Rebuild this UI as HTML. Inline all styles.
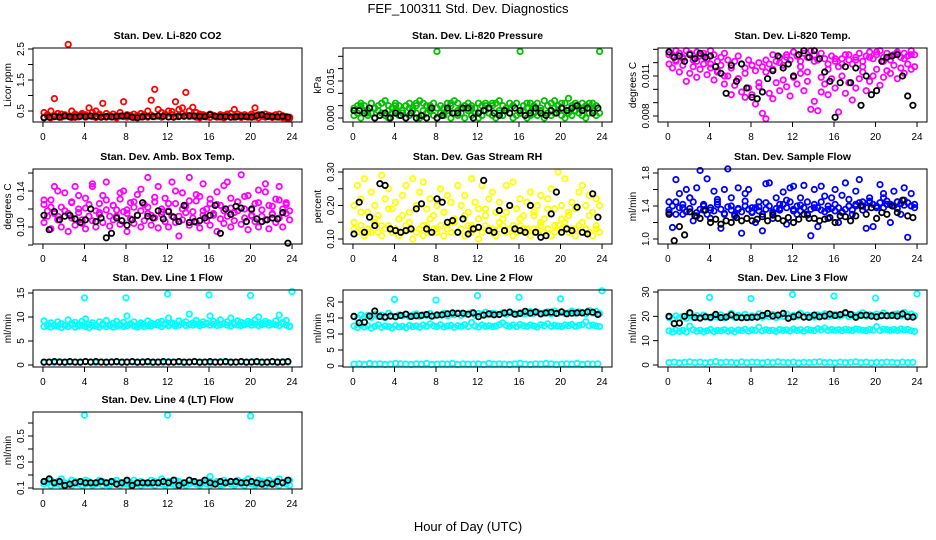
<!DOCTYPE html>
<html><head><meta charset="utf-8"><style>
body{margin:0;background:#fff}
svg{display:block;font-family:"Liberation Sans",sans-serif}
</style></head><body>
<svg id="fig" width="936" height="540" viewBox="0 0 936 540">
<rect width="936" height="540" fill="#fff"/>
<text x="468" y="13" text-anchor="middle" font-size="13">FEF_100311  Std. Dev. Diagnostics</text>
<text x="468" y="531" text-anchor="middle" font-size="13">Hour of Day (UTC)</text>
</svg>
<script>
// ---- data (each array spans 0-24 h evenly) ----
const co2Red1=[0.45,0.38,0.5,0.9,0.42,0.4,0.36,2.65,0.5,0.4,0.35,0.42,0.38,0.6,0.45,0.5,0.4,0.75,0.42,0.36,0.4,0.35,0.45,0.8,0.38,0.32,0.4,0.36,0.42,0.38,0.5,0.85,1.2,0.55,0.45,0.4,0.5,0.48,0.8,0.55,0.6,1.1,0.5,0.62,0.45,0.4,0.38,0.35,0.4,0.36,0.32,0.38,0.35,0.4,0.42,0.55,0.4,0.36,0.38,0.34,0.4,0.6,0.38,0.35,0.4,0.36,0.34,0.38,0.4,0.35,0.32,0.3];
const co2Red2=[0.3,0.34,0.28,0.36,0.32,0.3,0.38,0.33,0.29,0.35,0.31,0.37,0.3,0.34,0.32,0.29,0.36,0.33,0.3,0.35,0.31,0.28,0.34,0.32,0.3,0.36,0.29,0.33,0.31,0.35,0.3,0.37,0.32,0.34,0.3,0.36,0.31,0.38,0.33,0.35,0.4,0.36,0.32,0.34,0.3,0.28,0.33,0.31,0.29,0.35,0.3,0.32,0.28,0.34,0.31,0.3,0.33,0.29,0.32,0.3,0.34,0.31,0.28,0.33,0.3,0.32,0.29,0.31,0.3,0.28,0.27,0.26];
const co2Black=[0.28,0.3,0.32,0.3,0.34,0.31,0.3,0.33,0.32,0.34,0.33,0.3,0.32,0.31,0.33,0.34,0.35,0.3,0.28,0.31,0.33,0.32,0.34,0.33,0.31,0.3,0.32,0.33,0.35,0.34,0.33,0.32,0.38,0.33,0.31,0.32,0.3,0.31,0.33,0.32,0.3,0.35,0.38,0.33,0.32,0.31,0.33,0.3];

const presGreen1=[0.004,0.005,0.006,0.005,0.003,0.006,0.004,0.005,0.006,0.007,0.005,0.004,0.006,0.005,0.003,0.005,0.006,0.004,0.005,0.007,0.006,0.005,0.004,0.006,0.027,0.005,0.004,0.006,0.005,0.007,0.006,0.004,0.005,0.006,0.005,0.004,0.006,0.005,0.006,0.004,0.005,0.006,0.007,0.005,0.004,0.006,0.005,0.006,0.027,0.005,0.004,0.006,0.005,0.006,0.004,0.007,0.005,0.006,0.007,0.005,0.004,0.006,0.008,0.005,0.006,0.004,0.006,0.005,0.004,0.006,0.005,0.027];
const presGreen2=[0.001,0.002,0.0,0.003,0.001,0.002,0.0,0.003,0.002,0.001,0.0,0.002,0.003,0.001,0.002,0.0,0.001,0.003,0.002,0.0,0.001,0.002,0.003,0.001,0.0,0.002,0.001,0.003,0.0,0.002,0.001,0.002,0.0,0.003,0.001,0.002,0.0,0.001,0.003,0.002,0.001,0.0,0.002,0.001,0.003,0.002,0.0,0.001,0.002,0.003,0.0,0.001,0.002,0.001,0.003,0.0,0.002,0.001,0.002,0.003,0.001,0.0,0.002,0.001,0.003,0.002,0.001,0.0,0.002,0.003,0.001,0.002];
const presGreen3=[0.003,0.005,0.002,0.004,0.006,0.003,0.005,0.002,0.004,0.006,0.003,0.005,0.004,0.002,0.006,0.003,0.005,0.004,0.002,0.005,0.006,0.003,0.004,0.005,0.002,0.006,0.004,0.003,0.005,0.004,0.006,0.003,0.005,0.004,0.006,0.005];
const presBlack=[0.003,0.003,0.002,0.004,0.0,0.001,0.002,0.0,0.002,0.001,0.0,0.002,0.0,0.001,0.0,0.004,0.0,0.001,0.004,0.002,0.002,0.004,0.004,0.0,0.002,0.003,0.004,0.002,0.001,0.003,0.002,0.004,0.003,0.001,0.002,0.004,0.002,0.001,0.003,0.002,0.004,0.003,0.004,0.005,0.003,0.004,0.002,0.004];

const tempMag1=[0.0128,0.0125,0.0122,0.0127,0.0124,0.0129,0.0126,0.0122,0.0128,0.0125,0.0127,0.0123,0.0129,0.0126,0.0121,0.0124,0.0127,0.0122,0.0118,0.0121,0.0125,0.0119,0.0116,0.0122,0.0118,0.0114,0.0120,0.0117,0.0113,0.0119,0.0115,0.0121,0.0124,0.0118,0.0126,0.0122,0.0128,0.0125,0.0121,0.0127,0.0124,0.0129,0.0126,0.0122,0.0127,0.0123,0.0119,0.0125,0.0121,0.0117,0.0123,0.0126,0.0122,0.0119,0.0124,0.0127,0.0121,0.0125,0.0128,0.0123,0.0126,0.0129,0.0124,0.0127,0.0122,0.0126,0.0128,0.0124,0.0127,0.0125,0.0129,0.0126];
const tempMag2=[0.0119,0.0116,0.0121,0.0113,0.0118,0.0106,0.0112,0.0117,0.0109,0.0115,0.0119,0.0111,0.0116,0.0107,0.0113,0.0118,0.0104,0.0110,0.0096,0.0103,0.0108,0.0098,0.0094,0.0101,0.0096,0.0089,0.0102,0.0082,0.0078,0.0097,0.0093,0.0105,0.0099,0.0107,0.0102,0.0095,0.0109,0.0104,0.0112,0.0099,0.0106,0.0085,0.0091,0.0084,0.0098,0.0104,0.0096,0.0108,0.0101,0.0083,0.0110,0.0097,0.0105,0.0092,0.0101,0.0108,0.0113,0.0099,0.0106,0.0110,0.0115,0.0103,0.0109,0.0114,0.0112,0.0118,0.0108,0.0116,0.0112,0.0119,0.0115,0.0117];
const tempMag3=[0.0126,0.0129,0.0123,0.0127,0.0121,0.0125,0.0119,0.0114,0.0110,0.0116,0.0108,0.0112,0.0118,0.0105,0.0122,0.0126,0.0120,0.0124,0.0128,0.0117,0.0113,0.0121,0.0109,0.0115,0.0123,0.0119,0.0126,0.0122,0.0117,0.0124,0.0128,0.0121,0.0125,0.0127,0.0123,0.0126];
const tempBlack=[0.0128,0.0124,0.0125,0.0121,0.0126,0.0123,0.0127,0.0124,0.0125,0.0117,0.0112,0.0097,0.0118,0.0106,0.0119,0.0101,0.0094,0.0093,0.0098,0.0108,0.0114,0.0125,0.0116,0.0119,0.0110,0.0126,0.0129,0.0124,0.0129,0.0123,0.0113,0.0106,0.0079,0.0105,0.0117,0.0105,0.0116,0.0088,0.0110,0.0096,0.0099,0.0121,0.0124,0.0125,0.0126,0.0110,0.0095,0.0088];

const ambMag1=[0.125,0.118,0.13,0.145,0.112,0.122,0.138,0.115,0.128,0.145,0.12,0.108,0.132,0.125,0.148,0.118,0.126,0.135,0.15,0.112,0.124,0.119,0.131,0.14,0.115,0.127,0.122,0.136,0.118,0.125,0.155,0.113,0.128,0.145,0.12,0.132,0.118,0.15,0.126,0.112,0.138,0.123,0.155,0.117,0.129,0.134,0.148,0.12,0.126,0.113,0.139,0.124,0.118,0.15,0.132,0.116,0.128,0.158,0.12,0.135,0.112,0.126,0.141,0.119,0.148,0.124,0.115,0.131,0.145,0.12,0.127,0.118];
const ambMag2=[0.105,0.112,0.098,0.115,0.108,0.1,0.118,0.095,0.11,0.102,0.116,0.104,0.098,0.112,0.107,0.1,0.114,0.105,0.119,0.101,0.108,0.112,0.103,0.117,0.095,0.109,0.104,0.113,0.1,0.107,0.115,0.102,0.11,0.099,0.114,0.106,0.1,0.112,0.105,0.09,0.108,0.116,0.102,0.11,0.105,0.099,0.113,0.107,0.102,0.115,0.095,0.109,0.104,0.112,0.1,0.107,0.118,0.103,0.11,0.097,0.113,0.106,0.1,0.112,0.108,0.098,0.114,0.105,0.11,0.1,0.115,0.108];
const ambMag3=[0.13,0.122,0.14,0.118,0.127,0.135,0.121,0.145,0.116,0.13,0.124,0.138,0.119,0.128,0.142,0.122,0.133,0.117,0.126,0.14,0.12,0.129,0.136,0.118,0.131,0.125,0.146,0.121,0.128,0.134,0.119,0.127,0.139,0.123,0.13,0.125];
const ambBlack=[0.113,0.097,0.117,0.108,0.112,0.113,0.109,0.105,0.108,0.12,0.106,0.11,0.088,0.093,0.11,0.107,0.102,0.108,0.113,0.127,0.112,0.11,0.118,0.109,0.117,0.111,0.106,0.124,0.105,0.106,0.107,0.11,0.113,0.124,0.093,0.12,0.114,0.123,0.121,0.106,0.12,0.109,0.106,0.108,0.11,0.109,0.116,0.082];

const rhYel1=[0.2,0.26,0.22,0.28,0.18,0.24,0.2,0.17,0.29,0.22,0.25,0.19,0.21,0.16,0.23,0.26,0.18,0.28,0.2,0.24,0.27,0.19,0.22,0.17,0.2,0.25,0.18,0.23,0.21,0.16,0.26,0.2,0.23,0.18,0.28,0.21,0.19,0.26,0.17,0.22,0.24,0.18,0.21,0.16,0.26,0.2,0.27,0.19,0.22,0.17,0.21,0.24,0.18,0.2,0.23,0.16,0.22,0.25,0.19,0.3,0.2,0.28,0.17,0.21,0.19,0.24,0.26,0.2,0.23,0.18,0.22,0.2];
const rhYel2=[0.13,0.12,0.14,0.11,0.13,0.12,0.15,0.12,0.11,0.13,0.14,0.12,0.13,0.11,0.12,0.14,0.13,0.1,0.12,0.13,0.11,0.14,0.12,0.13,0.12,0.14,0.11,0.13,0.12,0.15,0.12,0.13,0.11,0.14,0.12,0.13,0.1,0.12,0.14,0.13,0.12,0.11,0.13,0.14,0.12,0.13,0.11,0.12,0.14,0.13,0.12,0.11,0.13,0.12,0.14,0.12,0.13,0.11,0.12,0.14,0.13,0.15,0.12,0.13,0.11,0.14,0.12,0.13,0.12,0.11,0.13,0.12];
const rhYel3=[0.15,0.18,0.12,0.16,0.14,0.19,0.13,0.17,0.15,0.2,0.14,0.16,0.13,0.18,0.15,0.12,0.17,0.14,0.16,0.19,0.13,0.15,0.18,0.14,0.16,0.13,0.17,0.15,0.19,0.14,0.16,0.18,0.13,0.15,0.17,0.14];
const rhBlack=[0.115,0.21,0.12,0.165,0.14,0.265,0.26,0.13,0.125,0.12,0.125,0.13,0.19,0.205,0.13,0.12,0.22,0.21,0.15,0.155,0.12,0.16,0.115,0.13,0.135,0.275,0.125,0.12,0.185,0.125,0.2,0.13,0.125,0.12,0.2,0.12,0.105,0.11,0.175,0.24,0.12,0.13,0.125,0.195,0.12,0.115,0.235,0.165];

const sfBlue1=[1.45,1.14,1.72,1.55,1.3,1.6,1.5,1.22,1.62,1.83,1.35,1.73,1.25,1.58,1.45,1.13,1.6,1.85,1.5,1.28,1.62,1.07,1.55,1.6,1.38,1.2,1.45,1.1,1.67,1.68,1.25,1.5,1.42,1.57,1.18,1.62,1.64,1.3,1.5,1.65,1.45,1.04,1.6,1.15,1.64,1.52,1.25,1.5,1.6,1.2,1.53,1.68,1.4,1.3,1.58,1.72,1.45,1.13,1.5,1.15,1.38,1.66,1.55,1.42,1.2,1.58,1.45,1.3,1.62,1.02,1.55,1.38];
const sfBlue2=[1.35,1.4,1.3,1.38,1.42,1.33,1.37,1.45,1.32,1.36,1.4,1.3,1.38,1.34,1.42,1.36,1.31,1.39,1.35,1.3,1.37,1.33,1.4,1.36,1.32,1.38,1.34,1.3,1.36,1.4,1.33,1.37,1.35,1.42,1.38,1.45,1.36,1.4,1.34,1.38,1.3,1.36,1.42,1.38,1.35,1.33,1.4,1.37,1.34,1.38,1.32,1.36,1.4,1.35,1.42,1.44,1.4,1.38,1.45,1.42,1.4,1.44,1.38,1.46,1.42,1.4,1.45,1.43,1.41,1.44,1.4,1.42];
const sfBlue3=[1.32,1.45,1.38,1.5,1.28,1.42,1.35,1.48,1.3,1.4,1.36,1.46,1.33,1.39,1.44,1.31,1.37,1.47,1.34,1.41,1.29,1.38,1.45,1.36,1.42,1.33,1.48,1.4,1.35,1.46,1.38,1.5,1.42,1.37,1.47,1.4];
const sfBlack=[1.3,0.98,1.15,1.05,1.33,1.28,1.25,1.35,1.2,1.24,1.18,1.22,1.2,1.26,1.22,1.25,1.22,1.24,1.27,1.22,1.29,1.25,1.22,1.26,1.2,1.24,1.3,1.25,1.25,1.22,1.24,1.26,1.2,1.28,1.27,1.22,1.28,1.4,1.3,1.38,1.25,1.32,1.3,1.4,1.32,1.47,1.28,1.26];

const l1Up=[9.2,8.5,8.8,8.2,9.0,8.6,8.3,9.4,8.7,8.9,8.4,9.1,9.6,8.5,8.8,8.2,9.0,8.6,9.3,8.4,8.7,9.1,8.5,8.9,10.2,8.6,9.0,8.3,8.8,8.5,9.2,8.7,8.4,8.9,9.1,8.6,9.8,8.8,8.5,9.2,8.7,9.0,10.6,8.8,9.3,8.6,9.0,8.7,10.2,9.1,8.8,9.4,8.6,9.0,9.8,8.7,9.2,8.9,8.6,9.1,8.8,9.4,10.0,8.7,9.1,8.8,8.5,9.2,10.4,8.9,9.3,8.0];
const l1Mid=[8.0,8.2,7.9,8.3,8.1,7.8,8.2,8.0,8.4,7.9,8.1,8.3,8.0,7.8,8.2,8.1,7.9,8.3,8.0,8.2,7.9,8.1,8.3,8.0,8.2,8.4,8.1,7.9,8.3,8.0,8.2,8.1,8.5,8.3,8.0,8.4,8.2,8.5,8.1,8.3,8.6,8.2,8.4,8.3,8.5,8.2,8.4,8.6,8.3,8.5,8.2,8.4,8.6,8.3,8.1,8.5,8.3,8.2,8.4,8.6,8.3,8.5,8.2,8.4,8.6,8.3,8.5,8.4,8.2,8.6,8.3,8.1];
const l1Low=[0.5,0.6,0.5,0.7,0.5,0.6,0.6,0.5,0.7,0.6,0.5,0.6,0.5,0.7,0.6,0.5,0.6,0.6,0.5,0.7,0.6,0.5,0.6,0.5,0.7,0.6,0.6,0.5,0.6,0.7,0.5,0.6,0.5,0.6,0.7,0.6,0.5,0.6,0.6,0.5,0.7,0.6,0.5,0.6,0.6,0.5,0.7,0.6];
const l1Black=[0.6,0.6,0.7,0.6,0.6,0.7,0.6,0.6,0.7,0.6,0.7,0.6,0.6,0.6,0.7,0.6,0.6,0.7,0.6,0.6,0.7,0.6,0.6,0.7,0.6,0.6,0.7,0.6,0.6,0.7,0.6,0.6,0.7,0.6,0.6,0.7,0.6,0.6,0.7,0.6,0.6,0.7,0.6,0.6,0.7,0.6,0.6,0.7];
const l1OutHours=[4,8,12,16,20,24];
const l1Out=[14,14,14.8,14.6,14.5,15.3];

const l2Up=[15.5,15,16,15.3,15.8,15.2,16.2,15.5,15.9,15.1,16.5,15.6,15.3,16,15.7,16.2,15.4,15.9,16.3,15.5,16,15.8,16.4,15.6,16.1,15.9,16.5,15.7,16.2,16,16.6,15.8,16.3,16.1,16.7,15.9,16.4,16.2,16.8,16,16.5,16.3,16.1,16.6,16.2,16.9,16.4,16.1,16.7,16.3,16.5,17,16.4,16.8,16.2,16.6,16.9,16.3,17.2,16.5,16.8,16.4,16.6,17.2,16.5,16.9,16.7,16.3,17.3,16.6,17,16.4];
const l2Mid=[12.5,12,12.8,12.2,12.6,11.8,12.4,12.9,12.1,12.5,12.3,11.9,12.6,12.2,12.4,12,12.7,12.3,12.5,12.1,12.8,12.4,13.2,12.6,12.3,12.9,12.2,12.5,12.7,12.1,12.6,12.4,12.9,12.3,13.6,12.5,12.2,12.8,12.4,12.6,12.3,12.5,12.9,13.5,12.7,12.4,12.8,12.3,13,12.6,12.4,12.8,12.5,12.2,12.9,12.6,13.2,12.4,12.7,12.5,12.3,12.8,12.6,13,12.4,12.7,12.9,13.8,12.6,12.8,12.5,12.3];
const l2Low=[0.6,0.7,0.5,0.8,0.6,0.7,0.5,0.6,0.8,0.7,0.6,0.5,0.7,0.6,0.8,0.5,0.6,0.7,0.6,0.8,0.5,0.7,0.6,0.6,0.7,0.5,0.8,0.6,0.7,0.6,0.5,0.7,0.8,0.6,0.5,0.7,0.6,0.8,0.7,0.5,0.6,0.7,0.6,0.8,0.5,0.7,0.6,0.7];
const l2Black=[15.5,13.5,13.7,15.6,17.2,15.5,15.3,15.6,15.4,15.8,16.2,15.5,15.7,15.8,16.1,15.6,15.9,16,16.3,16.6,16.4,16.5,16.2,16.6,15.4,15.9,16.3,16,16.1,16.6,16.8,16.2,16.4,17.1,16.5,16.9,16.3,16.6,16.8,16.4,16.9,16.3,16.5,16.6,16.6,16.9,16.8,16.1];
const l2OutHours=[4,8,12,16,20,24];
const l2Out=[20.8,20.6,22,21.5,21,23.5];

const l3Up=[19.5,19,20.2,19.4,20,19.2,21,19.6,20.3,19.1,20.5,19.8,19.3,20.1,19.7,20.6,19.4,20,21.2,19.6,20.4,19.8,20.8,19.5,20.2,19.9,21,19.6,20.3,19.8,20.7,19.5,20.1,19.9,20.9,19.7,20.4,20,21.3,19.8,20.5,20.1,19.7,20.6,20.2,21,19.9,20.3,20.8,20.1,20.5,21.1,19.9,20.6,20.2,20.8,21.5,20,20.6,20.3,20.9,20.1,21.4,20.5,20.2,20.8,21,20.3,21.6,20.5,20.9,20.2];
const l3Mid=[14,13.5,14.4,13.8,14.2,13.6,16,14.5,13.9,14.3,13.7,14.1,14.6,13.8,14.2,14,14.5,13.9,14.3,13.7,14.4,14.1,14.7,13.9,14.4,14.2,15.5,14,14.5,14.1,14.3,13.8,14.6,14.2,14.4,14,14.8,14.2,14.5,13.9,14.6,14.3,14.1,14.9,14.4,15.2,14.2,14.6,14.3,14.5,14.1,14.7,14.4,14.2,14.8,14.5,14.3,14.1,14.6,14.4,15.8,14.2,14.7,14.5,14.3,14.6,14.2,14.8,14.4,14.6,14.1,13.8];
const l3Low=[1,1.2,0.9,1.1,1.3,1,1.2,0.9,1.1,1.4,1,1.2,1.1,0.9,1.3,1,1.2,1.1,0.9,1.2,1,1.3,1.1,1,1.2,0.9,1.1,1,1.2,1.3,1,1.1,0.9,1.2,1,1.1,1.3,1,1.2,0.9,1.1,1,1.2,1.1,0.9,1.2,1,1.1];
const l3Black=[20,17,17.2,20,21.5,19.5,19.3,19.8,19.6,20.8,19.5,19.7,20.6,19.6,19.4,19.5,19.6,19.7,20.4,21.2,20.1,20.5,21.2,19.2,19.8,20.6,19.7,19.6,20.5,19.8,20.1,20.9,20.3,20.7,21.5,20.8,19.6,20.4,20.5,20.1,19.8,20.3,20.2,20.4,20.1,21,19.8,19.7];
const l3OutHours=[4,8,12,16,20,24];
const l3Out=[27.8,27.3,29,28.3,27.5,29.2];

const l4Up=[0.15,0.14,0.16,0.13,0.15,0.17,0.14,0.13,0.16,0.15,0.14,0.12,0.16,0.15,0.13,0.14,0.16,0.15,0.14,0.13,0.15,0.16,0.14,0.13,0.15,0.14,0.16,0.13,0.15,0.14,0.13,0.16,0.15,0.14,0.17,0.13,0.15,0.14,0.16,0.15,0.13,0.14,0.16,0.15,0.14,0.13,0.15,0.16,0.19,0.14,0.15,0.13,0.16,0.14,0.15,0.13,0.16,0.14,0.15,0.17,0.14,0.13,0.16,0.15,0.14,0.16,0.13,0.15,0.17,0.14,0.15,0.16];
const l4Mid=[0.13,0.14,0.12,0.14,0.13,0.12,0.14,0.13,0.12,0.14,0.13,0.12,0.13,0.14,0.12,0.13,0.14,0.12,0.13,0.12,0.14,0.13,0.12,0.14,0.13,0.12,0.13,0.14,0.12,0.13,0.14,0.13,0.12,0.14,0.13,0.12,0.14,0.13,0.12,0.13,0.14,0.12,0.13,0.14,0.13,0.12,0.14,0.13,0.12,0.13,0.14,0.12,0.13,0.14,0.13,0.12,0.14,0.13,0.12,0.14,0.13,0.12,0.13,0.14,0.12,0.13,0.14,0.13,0.12,0.14,0.13,0.12];
const l4Black=[0.15,0.17,0.14,0.15,0.12,0.13,0.14,0.15,0.14,0.14,0.14,0.15,0.14,0.15,0.13,0.14,0.16,0.12,0.14,0.14,0.14,0.14,0.14,0.15,0.14,0.16,0.12,0.14,0.16,0.15,0.14,0.16,0.14,0.13,0.15,0.14,0.15,0.15,0.14,0.14,0.15,0.14,0.13,0.14,0.13,0.15,0.14,0.16];
const l4OutHours=[4,12,20];
const l4Out=[0.66,0.66,0.655];

const xTicks=[0,4,8,12,16,20,24];

// ---- layout ----
const NS='http://www.w3.org/2000/svg';
const svg=document.getElementById('fig');
const colL=[33,343,658], boxW=269;
const rowT=[48,169,290,412], rowB=[122,244,367,489];
function mk(tag,attrs,parent){const e=document.createElementNS(NS,tag);for(const k in attrs)e.setAttribute(k,attrs[k]);(parent||svg).appendChild(e);return e;}
function xScale(c,h){return colL[c]+(h+0.96)*boxW/25.92;}

const panels=[
 {c:0,r:0,title:'Stan. Dev. Li-820 CO2',ylab:'Licor ppm',map:[0.5,111,2.5,49],ticks:[0.5,1,1.5,2,2.5],labels:['0.5','1.5','2.5'],
  series:[[co2Red1,'#ff0000'],[co2Red2,'#ff0000'],[co2Black,'#000']]},
 {c:1,r:0,title:'Stan. Dev. Li-820 Pressure',ylab:'kPa',map:[0,118,0.015,81],ticks:[0,0.005,0.01,0.015,0.02,0.025],labels:['0.000','0.015'],
  series:[[presGreen1,'#00c000'],[presGreen2,'#00c000'],[presGreen3,'#00c000'],[presBlack,'#000']]},
 {c:2,r:0,title:'Stan. Dev. Li-820 Temp.',ylab:'degrees C',map:[0.008,116,0.011,76],ticks:[0.008,0.009,0.01,0.011,0.012,0.013],labels:['0.008','0.011'],
  series:[[tempMag1,'#ff00ff'],[tempMag2,'#ff00ff'],[tempMag3,'#ff00ff'],[tempBlack,'#000']]},
 {c:0,r:1,title:'Stan. Dev. Amb. Box Temp.',ylab:'degrees C',map:[0.10,227,0.14,191],ticks:[0.08,0.10,0.12,0.14,0.16],labels:['0.10','0.14'],
  series:[[ambMag1,'#ff00ff'],[ambMag2,'#ff00ff'],[ambMag3,'#ff00ff'],[ambBlack,'#000']]},
 {c:1,r:1,title:'Stan. Dev. Gas Stream RH',ylab:'percent',map:[0.10,239,0.30,172],ticks:[0.10,0.15,0.20,0.25,0.30],labels:['0.10','0.20','0.30'],
  series:[[rhYel1,'#ffff00'],[rhYel2,'#ffff00'],[rhYel3,'#ffff00'],[rhBlack,'#000']]},
 {c:2,r:1,title:'Stan. Dev. Sample Flow',ylab:'ml/min',map:[1.0,239,1.8,173],ticks:[1.0,1.2,1.4,1.6,1.8],labels:['1.0','1.4','1.8'],
  series:[[sfBlue1,'#0000ff'],[sfBlue2,'#0000ff'],[sfBlue3,'#0000ff'],[sfBlack,'#000']]},
 {c:0,r:2,title:'Stan. Dev. Line 1 Flow',ylab:'ml/min',map:[0,365,15,293],ticks:[0,5,10,15],labels:['0','5','10','15'],
  series:[[l1Up,'#00ffff'],[l1Mid,'#00ffff'],[l1Low,'#00ffff'],[l1Black,'#000']],out:[l1OutHours,l1Out,'#00ffff']},
 {c:1,r:2,title:'Stan. Dev. Line 2 Flow',ylab:'ml/min',map:[0,366,20,302],ticks:[0,5,10,15,20],labels:['0','5','10','15','20'],
  series:[[l2Up,'#00ffff'],[l2Mid,'#00ffff'],[l2Low,'#00ffff'],[l2Black,'#000']],out:[l2OutHours,l2Out,'#00ffff']},
 {c:2,r:2,title:'Stan. Dev. Line 3 Flow',ylab:'ml/min',map:[0,365,30,292],ticks:[0,10,20,30],labels:['0','10','20','30'],
  series:[[l3Up,'#00ffff'],[l3Mid,'#00ffff'],[l3Low,'#00ffff'],[l3Black,'#000']],out:[l3OutHours,l3Out,'#00ffff']},
 {c:0,r:3,title:'Stan. Dev. Line 4 (LT) Flow',ylab:'ml/min',map:[0.1,488,0.5,436],ticks:[0.1,0.2,0.3,0.4,0.5,0.6],labels:['0.1','0.3','0.5'],
  series:[[l4Up,'#00ffff'],[l4Mid,'#00ffff'],[l4Black,'#000']],out:[l4OutHours,l4Out,'#00ffff']}
];

panels.forEach((p,pi)=>{
  const g=mk('g',{});
  
  
  const L=colL[p.c], R=L+boxW, T=rowT[p.r], B=rowB[p.r];
  const yS=v=>p.map[1]+(v-p.map[0])*(p.map[3]-p.map[1])/(p.map[2]-p.map[0]);
  const cx=h=>xScale(p.c,h);
  const pts=mk('g',{},g);
  
  
  const colored=p.series.filter(s=>s[1]!=='#000'), black=p.series.filter(s=>s[1]==='#000');
  const drawArr=(arr,col)=>{
    const step=24/arr.length;
    arr.forEach((v,i)=>{
      const c=mk('circle',{cx:cx(i*step+0.1).toFixed(1),cy:yS(v).toFixed(1),r:2.7,fill:'none',stroke:col,'stroke-width':1.8},pts);
      
      
    });
  };
  colored.forEach(([arr,col])=>drawArr(arr,col));
  if(p.out){
    p.out[0].forEach((h,i)=>{
      const c=mk('circle',{cx:cx(h).toFixed(1),cy:yS(p.out[1][i]).toFixed(1),r:2.7,fill:'none',stroke:p.out[2],'stroke-width':1.8},pts);
      
      
    });
  }
  black.forEach(([arr,col])=>drawArr(arr,col));
  const bx=mk('rect',{x:L,y:T,width:boxW,height:B-T,fill:'none',stroke:'#000','stroke-width':1},g);
  
  
  const tt=mk('text',{x:(L+R)/2,y:T-9,'text-anchor':'middle','font-size':10.5,'font-weight':'bold'},g);
  tt.textContent=p.title;
  
  
  xTicks.forEach(t=>{
    const x=cx(t);
    mk('line',{x1:x,x2:x,y1:B,y2:B+5,stroke:'#000'},g);
    const tl=mk('text',{x:x,y:B+18,'text-anchor':'middle','font-size':10},g);
    tl.textContent=t;
    
    
  });
  p.ticks.forEach(t=>{
    const y=yS(t);
    mk('line',{x1:L-5,x2:L,y1:y,y2:y,stroke:'#000'},g);
    const lab=p.labels.find(s=>Math.abs(parseFloat(s)-t)<1e-9);
    if(lab!==undefined){
      const tl=mk('text',{x:0,y:0,'text-anchor':'middle','font-size':10,transform:`translate(${L-9},${y}) rotate(-90)`},g);
      tl.textContent=lab;
      
      
    }
  });
  const yl=mk('text',{x:0,y:0,'text-anchor':'middle','font-size':10,transform:`translate(${L-22},${(T+B)/2}) rotate(-90)`},g);
  yl.textContent=p.ylab;
  
  
});
</script>
</body></html>
